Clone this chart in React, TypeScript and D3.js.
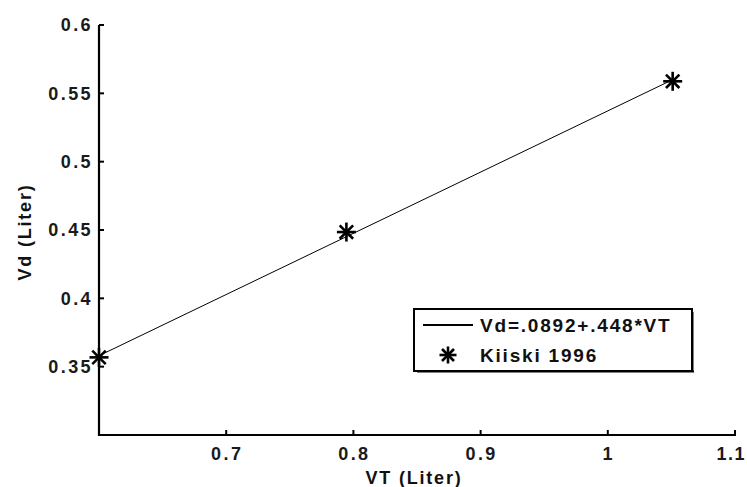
import React, { useEffect, useRef } from "react";
import * as d3 from "d3";

const xTicks = [0.7, 0.8, 0.9, 1, 1.1];
const yTicks = [0.35, 0.4, 0.45, 0.5, 0.55, 0.6];
const pointsVT = [0.6, 0.7945, 1.051];
const pointsVd = [0.3568, 0.4485, 0.5588];
const fitVT = [0.6, 1.051];
const fitVd = [0.358, 0.56];
const legendLabels = ["Vd=.0892+.448*VT", "Kiiski 1996"];

const W = 747;
const H = 487;

export default function App() {
  const ref = useRef<SVGSVGElement>(null);
  useEffect(() => {
    const svg = d3.select(ref.current);
    svg.selectAll("*").remove();
    const x = d3.scaleLinear().domain([0.6, 1.1]).range([99, 735]);
    const y = d3.scaleLinear().domain([0.3, 0.6]).range([435, 25]);
    const font = "Arial, 'Liberation Sans', Helvetica, sans-serif";

    // fit line
    const line = d3
      .line<number>()
      .x((d, i) => x(fitVT[i]))
      .y((d) => y(d));
    svg
      .append("path")
      .attr("d", line(fitVd))
      .attr("fill", "none")
      .attr("stroke", "#000")
      .attr("stroke-width", 1);

    // axes
    const g = svg.append("g");
    g.append("line")
      .attr("x1", x(0.6))
      .attr("x2", x(0.6))
      .attr("y1", y(0.6))
      .attr("y2", y(0.3) + 1)
      .attr("stroke", "#000")
      .attr("stroke-width", 2.2);
    g.append("line")
      .attr("x1", x(0.6) - 1)
      .attr("x2", x(1.1) + 1)
      .attr("y1", y(0.3))
      .attr("y2", y(0.3))
      .attr("stroke", "#000")
      .attr("stroke-width", 2.2);

    xTicks.forEach((t, i) => {
      g.append("line")
        .attr("x1", x(t))
        .attr("x2", x(t))
        .attr("y1", y(0.3))
        .attr("y2", y(0.3) - 5)
        .attr("stroke", "#000")
        .attr("stroke-width", 2);
      const last = i === xTicks.length - 1;
      g.append("text")
        .attr("x", last ? 746 : x(t) + 1)
        .attr("y", 460)
        .attr("text-anchor", last ? "end" : "middle")
        .attr("font-family", font)
        .attr("font-weight", "bold")
        .attr("font-size", 18)
        .attr("letter-spacing", last ? 1.5 : 2.4)
        .attr("fill", "#1a1a1a")
        .text(d3.format("")(t));
    });
    yTicks.forEach((t) => {
      g.append("line")
        .attr("x1", x(0.6))
        .attr("x2", x(0.6) + 5)
        .attr("y1", y(t))
        .attr("y2", y(t))
        .attr("stroke", "#000")
        .attr("stroke-width", 2);
      g.append("text")
        .attr("x", 93)
        .attr("y", y(t))
        .attr("dy", "0.36em")
        .attr("text-anchor", "end")
        .attr("font-family", font)
        .attr("font-weight", "bold")
        .attr("font-size", 18)
        .attr("letter-spacing", 2.4)
        .attr("fill", "#1a1a1a")
        .text(String(t));
    });

    // axis titles
    svg
      .append("text")
      .attr("x", 414)
      .attr("y", 484)
      .attr("text-anchor", "middle")
      .attr("font-family", font)
      .attr("font-weight", "bold")
      .attr("font-size", 18)
      .attr("letter-spacing", 1.8)
      .attr("fill", "#111")
      .text("VT (Liter)");
    svg
      .append("text")
      .attr("transform", "translate(31,232) rotate(-90)")
      .attr("text-anchor", "middle")
      .attr("font-family", font)
      .attr("font-weight", "bold")
      .attr("font-size", 18)
      .attr("letter-spacing", 1.8)
      .attr("fill", "#111")
      .text("Vd (Liter)");

    // star marker
    const star = (sel: any, cx: number, cy: number, r: number) => {
      const gg = sel.append("g").attr("transform", `translate(${cx},${cy})`);
      const d = r * Math.SQRT1_2;
      const segs = [
        [-r, 0, r, 0],
        [0, -r, 0, r],
        [-d, -d, d, d],
        [-d, d, d, -d],
      ];
      segs.forEach((s) =>
        gg
          .append("line")
          .attr("x1", s[0])
          .attr("y1", s[1])
          .attr("x2", s[2])
          .attr("y2", s[3])
          .attr("stroke", "#000")
          .attr("stroke-width", 2.6)
      );
    };
    pointsVT.forEach((v, i) => star(svg, x(v), y(pointsVd[i]), 9.5));

    // legend
    const lg = svg.append("g");
    lg.append("rect")
      .attr("x", 414)
      .attr("y", 309)
      .attr("width", 278)
      .attr("height", 62)
      .attr("fill", "#fff")
      .attr("stroke", "#000")
      .attr("stroke-width", 2);
    lg.append("line")
      .attr("x1", 417)
      .attr("x2", 694)
      .attr("y1", 371.5)
      .attr("y2", 371.5)
      .attr("stroke", "#000")
      .attr("stroke-width", 2);
    lg.append("line")
      .attr("x1", 692.5)
      .attr("x2", 692.5)
      .attr("y1", 312)
      .attr("y2", 372)
      .attr("stroke", "#000")
      .attr("stroke-width", 2);
    lg.append("line")
      .attr("x1", 423)
      .attr("x2", 473)
      .attr("y1", 325)
      .attr("y2", 325)
      .attr("stroke", "#000")
      .attr("stroke-width", 2);
    star(lg, 448, 355, 8.5);
    legendLabels.forEach((t, i) => {
      lg.append("text")
        .attr("x", 480)
        .attr("y", 332 + i * 30)
        .attr("font-family", font)
        .attr("font-weight", "bold")
        .attr("font-size", 19)
        .attr("letter-spacing", 1.8)
        .attr("fill", "#111")
        .text(t);
    });
  }, []);
  return (
    <svg
      ref={ref}
      width={W}
      height={H}
      style={{ position: "fixed", left: 0, top: 0, background: "#fff" }}
    />
  );
}
